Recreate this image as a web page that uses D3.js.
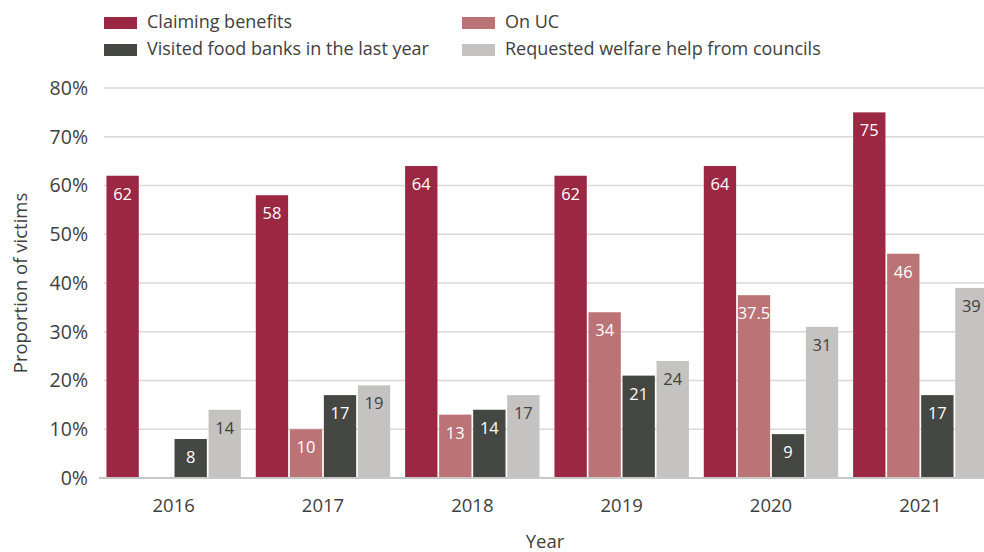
<!DOCTYPE html>
<html>
<head>
<meta charset="utf-8">
<script src="https://cdn.jsdelivr.net/npm/d3@7/dist/d3.min.js"></script>
<style>
  html, body { margin: 0; padding: 0; background: #fff; }
  svg { display: block; font-family: "Open Sans", "Noto Sans", sans-serif; }
</style>
</head>
<body>
<svg id="chart" width="984" height="552"></svg>
<script>
// Survey years and the four measures shown for each
const years = ["2016", "2017", "2018", "2019", "2020", "2021"];
const seriesNames = [
  "Claiming benefits",
  "On UC",
  "Visited food banks in the last year",
  "Requested welfare help from councils"
];
const claimingBenefits = [62, 58, 64, 62, 64, 75];
const onUC = [null, 10, 13, 34, 37.5, 46];
const foodBanks = [8, 17, 14, 21, 9, 17];
const welfareHelp = [14, 19, 17, 24, 31, 39];
const yTicks = [0, 10, 20, 30, 40, 50, 60, 70, 80];

const seriesValues = [claimingBenefits, onUC, foodBanks, welfareHelp];
const colors = ["#9B2743", "#BB7375", "#454743", "#C4C3C1"];
const labelColors = ["#ffffff", "#ffffff", "#ffffff", "#404040"];

const svg = d3.select("#chart");
const textColor = "#404040";

const x0 = d3.scaleBand().domain(years).range([99, 995])
  .paddingInner(0.1).paddingOuter(0.05);
const x1 = d3.scaleBand().domain(seriesNames).range([0, x0.bandwidth()])
  .paddingInner(0.05).paddingOuter(0);
const y = d3.scaleLinear().domain([0, 80]).range([478, 88]);

// Horizontal gridlines
svg.append("g")
  .selectAll("line")
  .data(yTicks.filter(t => t > 0))
  .join("line")
  .attr("x1", 104).attr("x2", 984)
  .attr("y1", d => y(d)).attr("y2", d => y(d))
  .attr("stroke", "#d9d9d9").attr("stroke-width", 1.5);

// Y axis labels
const yAxis = svg.append("g")
  .attr("transform", "translate(99,0)")
  .call(d3.axisLeft(y).tickValues(yTicks).tickFormat(d => d + "%").tickSize(0).tickPadding(11));
yAxis.select(".domain").remove();
yAxis.selectAll("text")
  .attr("fill", textColor).attr("font-size", 19.5)
  .attr("font-family", "'Open Sans', sans-serif");

// Bars
const groups = svg.append("g")
  .selectAll("g")
  .data(years)
  .join("g")
  .attr("transform", d => `translate(${x0(d)},0)`);

const rows = (yr, i) => seriesNames
  .map((name, s) => ({ name, s, value: seriesValues[s][i] }))
  .filter(r => r.value !== null);

groups.selectAll("rect")
  .data((yr, i) => rows(yr, i))
  .join("rect")
  .attr("x", d => x1(d.name))
  .attr("width", x1.bandwidth())
  .attr("y", d => y(d.value))
  .attr("height", d => y(0) - y(d.value))
  .attr("fill", d => colors[d.s]);

groups.selectAll("text")
  .data((yr, i) => rows(yr, i))
  .join("text")
  .attr("x", d => x1(d.name) + x1.bandwidth() / 2)
  .attr("y", d => y(d.value) + 24)
  .attr("text-anchor", "middle")
  .attr("font-size", 16.5)
  .attr("fill", d => labelColors[d.s])
  .text(d => d.value);

// Baseline
svg.append("line")
  .attr("x1", 99).attr("x2", 984)
  .attr("y1", y(0)).attr("y2", y(0))
  .attr("stroke", "#c8c8c8").attr("stroke-width", 2);

// X axis labels
const xAxis = svg.append("g")
  .attr("transform", `translate(0,${y(0)})`)
  .call(d3.axisBottom(x0).tickSize(0).tickPadding(21));
xAxis.select(".domain").remove();
xAxis.selectAll("text")
  .attr("fill", textColor).attr("font-size", 18.5)
  .attr("font-family", "'Open Sans', sans-serif");

// Axis titles
svg.append("text")
  .attr("x", 545).attr("y", 548)
  .attr("text-anchor", "middle")
  .attr("font-size", 18.5).attr("fill", textColor)
  .text("Year");
svg.append("text")
  .attr("transform", "translate(27,283) rotate(-90)")
  .attr("text-anchor", "middle")
  .attr("font-size", 18.5).attr("fill", textColor)
  .text("Proportion of victims");

// Legend
const legendPos = [[104, 17], [462, 17], [104, 44], [462, 44]];
const legend = svg.append("g")
  .selectAll("g")
  .data(seriesNames)
  .join("g")
  .attr("transform", (d, i) => `translate(${legendPos[i][0]},${legendPos[i][1]})`);
legend.append("rect")
  .attr("width", 33).attr("height", 12)
  .attr("fill", (d, i) => colors[i]);
legend.append("text")
  .attr("x", 43).attr("y", 11)
  .attr("font-size", 18).attr("fill", textColor)
  .text(d => d);
</script>
</body>
</html>
